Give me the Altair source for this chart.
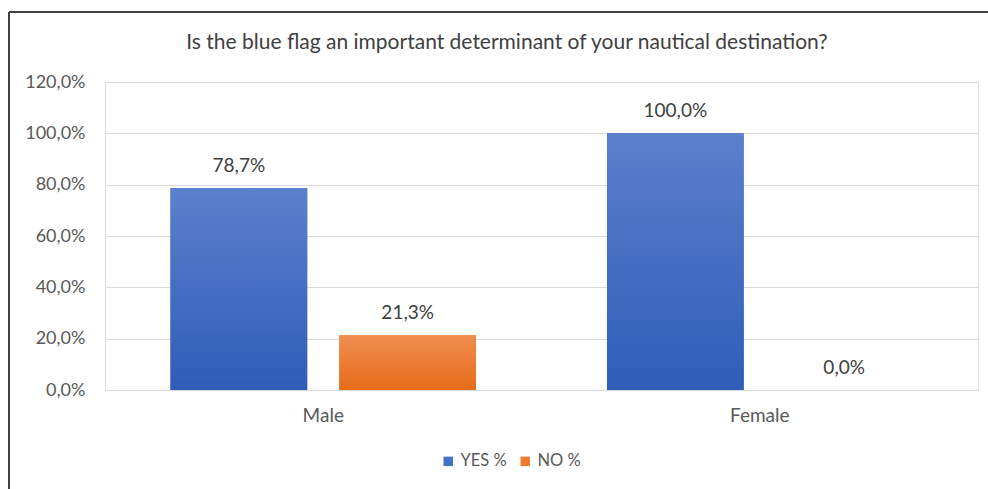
import altair as alt
import pandas as pd

categories = ["Male", "Male", "Female", "Female"]
series = ["YES %", "NO %", "YES %", "NO %"]
values = [78.7, 21.3, 100.0, 0.0]
y_ticks = [0, 20, 40, 60, 80, 100, 120]
title_text = "Is the blue flag an important determinant of your nautical destination?"

df = pd.DataFrame({"gender": categories, "series": series, "value": values})

FONT = "Lato"
order_cat = ["Male", "Female"]
order_ser = ["YES %", "NO %"]

x = alt.X("gender:N", sort=order_cat,
          scale=alt.Scale(paddingInner=0.3, paddingOuter=0.15),
          axis=alt.Axis(title=None, labelAngle=0, labelFontSize=19, labelColor="#595959",
                        labelFont=FONT, ticks=False, domainColor="#D9D9D9", labelPadding=16))
xo = alt.XOffset("series:N", sort=order_ser, scale=alt.Scale(paddingInner=0.19, paddingOuter=0))
y = alt.Y("value:Q", scale=alt.Scale(domain=[0, 120], nice=False),
          axis=alt.Axis(title=None, values=y_ticks, domain=False, ticks=False,
                        labelExpr="replace(format(datum.value, '.1f'), '.', ',') + '%'",
                        labelFontSize=18, labelColor="#595959", labelFont=FONT,
                        labelPadding=20, gridColor="#D9D9D9", gridWidth=1))

base = alt.Chart(df)

bars = base.mark_bar().encode(
    x=x, xOffset=xo, y=y,
    color=alt.Color("series:N", sort=order_ser,
                    scale=alt.Scale(domain=order_ser, range=["#4472C4", "#ED7D31"]),
                    legend=alt.Legend(title=None, orient="none", direction="horizontal",
                                      legendX=335, legendY=371, symbolType="square",
                                      symbolSize=90, labelFontSize=16.5, labelColor="#595959",
                                      labelFont=FONT, columnPadding=10, symbolStrokeWidth=0)),
)

blue_grad = alt.LinearGradient(gradient="linear", x1=0, y1=0, x2=0, y2=1,
                               stops=[alt.GradientStop(color="#5B80CC", offset=0),
                                      alt.GradientStop(color="#2E5DB8", offset=1)])
orange_grad = alt.LinearGradient(gradient="linear", x1=0, y1=0, x2=0, y2=1,
                                 stops=[alt.GradientStop(color="#F08D50", offset=0),
                                        alt.GradientStop(color="#E66C18", offset=1)])

grad_bars = base.mark_bar().encode(
    x=x, xOffset=xo, y=y,
    color=alt.condition(alt.datum.series == "YES %", alt.value(blue_grad), alt.value(orange_grad)),
)

labels = base.mark_text(dy=-12, fontSize=19, color="#404040", font=FONT, baseline="bottom").encode(
    x=x, xOffset=xo, y=y,
    text=alt.Text("label:N"),
).transform_calculate(label="replace(format(datum.value, '.1f'), '.', ',') + '%'")

title = alt.Chart(pd.DataFrame({"t": [title_text]})).mark_text(
    fontSize=21, font=FONT, color="#404040", align="center", baseline="middle").encode(
    x=alt.value(402), y=alt.value(-39), text="t:N")

border_top = alt.Chart(df).mark_rule(color="#404040", strokeWidth=1.5).encode(
    x=alt.value(-96), x2=alt.value(900), y=alt.value(-70))
border_left = alt.Chart(df).mark_rule(color="#404040", strokeWidth=1.5).encode(
    x=alt.value(-96), y=alt.value(-70), y2=alt.value(420))

chart = alt.layer(bars, grad_bars, labels, title, border_top, border_left).properties(
    width=873, height=308,
    padding={"left": 105, "top": 82, "right": 10, "bottom": 99},
    autosize=alt.AutoSizeParams(type="none"),
).configure_view(stroke=None).configure(background="white")

chart.save("out.html", embed_options={"renderer": "svg", "actions": False})
